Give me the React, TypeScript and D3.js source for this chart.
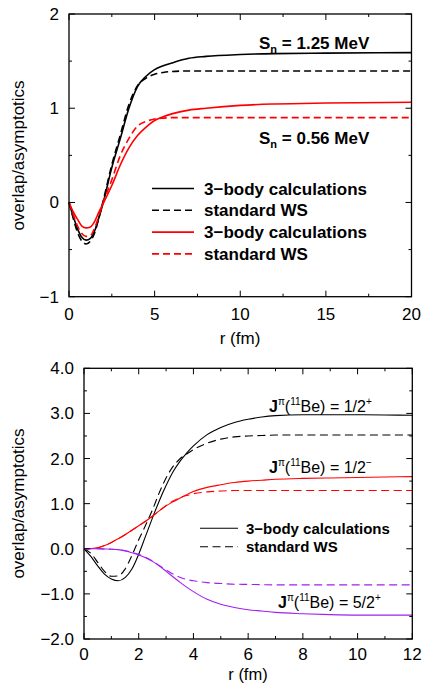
import * as d3 from "d3";

// ---- top panel: S_n comparison ----
const rTop = [0, 0.25, 0.5, 0.75, 1.0, 1.25, 1.5, 1.75, 2.0, 2.5, 3.0, 3.5, 4.0, 4.5, 5, 5.5, 6, 7, 8, 10, 12, 15, 20];
const sn125Body = [0, -0.15, -0.28, -0.37, -0.4, -0.38, -0.3, -0.16, 0.0, 0.37, 0.68, 1.0, 1.23, 1.34, 1.41, 1.45, 1.48, 1.53, 1.55, 1.57, 1.58, 1.585, 1.59];
const sn125WS = [0, -0.17, -0.32, -0.41, -0.44, -0.41, -0.32, -0.16, 0.02, 0.4, 0.72, 1.04, 1.24, 1.32, 1.36, 1.38, 1.39, 1.395, 1.395, 1.395, 1.395, 1.395, 1.395];
const sn056Body = [0, -0.1, -0.18, -0.25, -0.27, -0.26, -0.2, -0.1, -0.01, 0.18, 0.4, 0.58, 0.71, 0.8, 0.87, 0.91, 0.94, 0.98, 1.0, 1.03, 1.045, 1.055, 1.063];
const sn056WS = [0, -0.13, -0.25, -0.33, -0.36, -0.35, -0.27, -0.14, 0.0, 0.24, 0.5, 0.68, 0.81, 0.86, 0.885, 0.895, 0.9, 0.9, 0.9, 0.9, 0.9, 0.9, 0.9];
const topXTicks = [0, 5, 10, 15, 20];
const topYTicks = [-1, 0, 1, 2];
const topYLabels = ["\u22121", "0", "1", "2"];

// ---- bottom panel: J^pi states ----
const rBot = [0, 0.25, 0.5, 0.75, 1.0, 1.25, 1.5, 1.75, 2.0, 2.25, 2.5, 2.75, 3.0, 3.25, 3.5, 3.75, 4.0, 4.5, 5, 5.5, 6, 6.5, 7, 8, 9, 10, 11, 12];
const halfPlusBody = [0, -0.17, -0.38, -0.56, -0.67, -0.71, -0.64, -0.45, -0.12, 0.28, 0.68, 1.06, 1.4, 1.7, 1.93, 2.12, 2.28, 2.53, 2.69, 2.8, 2.87, 2.92, 2.95, 2.97, 2.97, 2.97, 2.965, 2.96];
const halfPlusWS = [0, -0.1, -0.3, -0.5, -0.61, -0.6, -0.45, -0.15, 0.2, 0.52, 0.86, 1.24, 1.57, 1.82, 1.99, 2.1, 2.2, 2.34, 2.43, 2.48, 2.5, 2.51, 2.52, 2.52, 2.52, 2.52, 2.52, 2.52];
const halfMinusBody = [0, 0.005, 0.02, 0.07, 0.14, 0.22, 0.31, 0.41, 0.51, 0.61, 0.72, 0.84, 0.95, 1.04, 1.12, 1.2, 1.27, 1.36, 1.42, 1.47, 1.5, 1.52, 1.54, 1.56, 1.57, 1.58, 1.59, 1.6];
const halfMinusWS = [0, 0.005, 0.02, 0.07, 0.14, 0.22, 0.31, 0.41, 0.51, 0.61, 0.72, 0.84, 0.96, 1.06, 1.13, 1.18, 1.22, 1.26, 1.28, 1.29, 1.29, 1.29, 1.29, 1.29, 1.29, 1.29, 1.29, 1.29];
const fiveHalfBody = [0, 0, 0, -0.005, -0.01, -0.02, -0.05, -0.09, -0.14, -0.2, -0.28, -0.38, -0.5, -0.62, -0.74, -0.85, -0.95, -1.12, -1.23, -1.3, -1.35, -1.38, -1.41, -1.44, -1.46, -1.47, -1.47, -1.47];
const fiveHalfWS = [0, 0, 0, -0.005, -0.01, -0.02, -0.04, -0.08, -0.12, -0.19, -0.27, -0.37, -0.47, -0.56, -0.63, -0.68, -0.71, -0.75, -0.77, -0.785, -0.79, -0.795, -0.8, -0.8, -0.8, -0.8, -0.8, -0.8];
const botXTicks = [0, 2, 4, 6, 8, 10, 12];
const botYTicks = [-2, -1, 0, 1, 2, 3, 4];
const botYLabels = ["\u22122.0", "\u22121.0", "0.0", "1.0", "2.0", "3.0", "4.0"];

const FONT = "'Liberation Sans', Arial, sans-serif";
const RED = "#ff0000";
const PURPLE = "#a020f0";

function Frame({ x, y, xMinor, yMinor, xTicks, yTicks, yLabels, sw, xLabelDy }) {
  const [x0, x1] = x.range();
  const [y0, y1] = y.range();
  const maj = 6, min = 3;
  return (
    <g>
      <rect x={x0} y={y1} width={x1 - x0} height={y0 - y1} fill="none" stroke="#000" strokeWidth={sw} />
      {xMinor.map((t, i) => {
        const L = xTicks.includes(t) ? maj : min;
        return (
          <g key={"x" + i} stroke="#000" strokeWidth={1}>
            <line x1={x(t)} x2={x(t)} y1={y0} y2={y0 - L} />
            <line x1={x(t)} x2={x(t)} y1={y1} y2={y1 + L} />
          </g>
        );
      })}
      {yMinor.map((t, i) => {
        const L = yTicks.includes(t) ? maj : min;
        return (
          <g key={"y" + i} stroke="#000" strokeWidth={1}>
            <line x1={x0} x2={x0 + L} y1={y(t)} y2={y(t)} />
            <line x1={x1} x2={x1 - L} y1={y(t)} y2={y(t)} />
          </g>
        );
      })}
      {xTicks.map((t) => (
        <text key={"xl" + t} x={x(t)} y={y0 + xLabelDy} textAnchor="middle" fontSize={17} fontFamily={FONT}>{t}</text>
      ))}
      {yTicks.map((t, i) => (
        <text key={"yl" + t} x={x0 - 10} y={y(t) + 6} textAnchor="end" fontSize={17} fontFamily={FONT}>{yLabels[i]}</text>
      ))}
    </g>
  );
}

function Jlabel({ x, y, spin, parity }) {
  return (
    <text x={x} y={y} fontSize={16} fontFamily={FONT}>
      <tspan fontWeight="bold">J</tspan>
      <tspan fontSize={10} dy={-7}>{"\u03C0"}</tspan>
      <tspan dy={7}>(</tspan>
      <tspan fontSize={10} dy={-7}>11</tspan>
      <tspan dy={7}>{"Be) = " + spin}</tspan>
      <tspan fontSize={10} dy={-7}>{parity}</tspan>
    </text>
  );
}

function SnLabel({ x, y, value }) {
  return (
    <text x={x} y={y} fontSize={17} fontWeight="bold" fontFamily={FONT}>
      S<tspan fontSize={11} dy={4}>n</tspan>
      <tspan dy={-4}>{" = " + value + " MeV"}</tspan>
    </text>
  );
}

export default function App() {
  // top
  const xT = d3.scaleLinear().domain([0, 20]).range([69, 411.5]);
  const yT = d3.scaleLinear().domain([-1, 2]).range([296.7, 14]);
  const lineT = (vals) =>
    d3.line().x((_, i) => xT(rTop[i])).y((d) => yT(d)).curve(d3.curveMonotoneX)(vals);
  const topSeries = [
    { v: sn125Body, c: "#000", dash: null },
    { v: sn125WS, c: "#000", dash: "7,4" },
    { v: sn056Body, c: RED, dash: null },
    { v: sn056WS, c: RED, dash: "7,4" },
  ];
  const topLegend = [
    { label: "3\u2212body calculations", c: "#000", dash: null },
    { label: "standard WS", c: "#000", dash: "7,4" },
    { label: "3\u2212body calculations", c: RED, dash: null },
    { label: "standard WS", c: RED, dash: "7,4" },
  ];

  // bottom
  const xB = d3.scaleLinear().domain([0, 12]).range([84, 412.3]);
  const yB = d3.scaleLinear().domain([-2, 4]).range([639, 368.3]);
  const lineB = (vals) =>
    d3.line().x((_, i) => xB(rBot[i])).y((d) => yB(d)).curve(d3.curveMonotoneX)(vals);
  const botSeries = [
    { v: halfPlusBody, c: "#000", dash: null },
    { v: halfPlusWS, c: "#000", dash: "8,4.5" },
    { v: halfMinusBody, c: RED, dash: null },
    { v: halfMinusWS, c: RED, dash: "8,4.5" },
    { v: fiveHalfBody, c: PURPLE, dash: null },
    { v: fiveHalfWS, c: PURPLE, dash: "8,4.5" },
  ];

  return (
    <svg width={423} height={684} style={{ position: "absolute", left: 0, top: 0, background: "#fff" }}>
      {/* ---- top panel ---- */}
      <g>
        {topSeries.map((s, i) => (
          <path key={i} d={lineT(s.v)} fill="none" stroke={s.c} strokeWidth={1.6} strokeDasharray={s.dash || undefined} />
        ))}
        <Frame x={xT} y={yT} xMinor={d3.range(0, 20.01, 2.5)} yMinor={d3.range(-1, 2.01, 0.5)}
          xTicks={topXTicks} yTicks={topYTicks} yLabels={topYLabels} sw={1.3} xLabelDy={23} />
        <SnLabel x={259} y={49} value="1.25" />
        <SnLabel x={259} y={144} value="0.56" />
        {topLegend.map((l, i) => {
          const cy = 188.5 + i * 21.8;
          return (
            <g key={i}>
              <line x1={152} x2={194} y1={cy} y2={cy} stroke={l.c} strokeWidth={1.6} strokeDasharray={l.dash || undefined} />
              <text x={204} y={cy + 6} fontSize={17} fontWeight="bold" fontFamily={FONT}>{l.label}</text>
            </g>
          );
        })}
        <text x={240} y={344} textAnchor="middle" fontSize={17} fontFamily={FONT}>r (fm)</text>
        <text transform={`translate(24,155.5) rotate(-90)`} textAnchor="middle" fontSize={17} fontFamily={FONT}>overlap/asymptotics</text>
      </g>

      {/* ---- bottom panel ---- */}
      <g>
        {botSeries.map((s, i) => (
          <path key={i} d={lineB(s.v)} fill="none" stroke={s.c} strokeWidth={1.1} strokeDasharray={s.dash || undefined} />
        ))}
        <Frame x={xB} y={yB} xMinor={d3.range(0, 12.01, 1)} yMinor={d3.range(-2, 4.01, 0.5)}
          xTicks={botXTicks} yTicks={botYTicks} yLabels={botYLabels} sw={1.3} xLabelDy={21} />
        <Jlabel x={269} y={412} spin="1/2" parity="+" />
        <Jlabel x={269} y={473} spin="1/2" parity={"\u2212"} />
        <Jlabel x={278} y={608} spin="5/2" parity="+" />
        <line x1={200} x2={238} y1={528.3} y2={528.3} stroke="#000" strokeWidth={1.1} />
        <text x={246} y={533.5} fontSize={15} fontWeight="bold" fontFamily={FONT}>3{"\u2212"}body calculations</text>
        <line x1={200} x2={238} y1={546.7} y2={546.7} stroke="#000" strokeWidth={1.1} strokeDasharray="8,4.5" />
        <text x={246} y={551.9} fontSize={15} fontWeight="bold" fontFamily={FONT}>standard WS</text>
        <text x={248} y={680} textAnchor="middle" fontSize={16.5} fontFamily={FONT}>r (fm)</text>
        <text transform={`translate(24,503.5) rotate(-90)`} textAnchor="middle" fontSize={17} fontFamily={FONT}>overlap/asymptotics</text>
      </g>
    </svg>
  );
}
